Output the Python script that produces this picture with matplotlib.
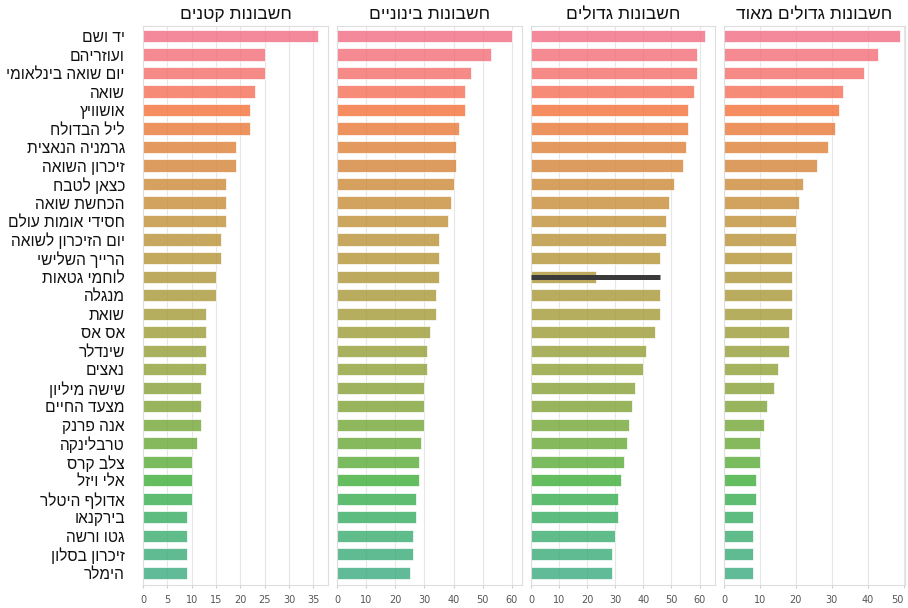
import matplotlib
matplotlib.use("Agg")
import matplotlib.pyplot as plt
import seaborn as sns

plt.rcParams['font.family'] = ['Liberation Sans', 'DejaVu Sans']

# categories (logical Hebrew order, top to bottom)
terms = [
    "יד ושם", "ועוזריהם", "יום שואה בינלאומי", "שואה", "אושוויץ", "ליל הבדולח",
    "גרמניה הנאצית", "זיכרון השואה", "כצאן לטבח", "הכחשת שואה", "חסידי אומות עולם",
    "יום הזיכרון לשואה", "הרייך השלישי", "לוחמי גטאות", "מנגלה", "שואת", "אס אס",
    "שינדלר", "נאצים", "שישה מיליון", "מצעד החיים", "אנה פרנק", "טרבלינקה",
    "צלב קרס", "אלי ויזל", "אדולף היטלר", "בירקנאו", "גטו ורשה", "זיכרון בסלון", "הימלר",
]

panel_titles = ["חשבונות קטנים", "חשבונות בינוניים", "חשבונות גדולים", "חשבונות גדולים מאוד"]

small = [36, 25, 25, 23, 22, 22, 19, 19, 17, 17, 17, 16, 16, 15, 15,
         13, 13, 13, 13, 12, 12, 12, 11, 10, 10, 10, 9, 9, 9, 9]
medium = [60, 53, 46, 44, 44, 42, 41, 41, 40, 39, 38, 35, 35, 35, 34,
          34, 32, 31, 31, 30, 30, 30, 29, 28, 28, 27, 27, 26, 26, 25]
large = [62, 59, 59, 58, 56, 56, 55, 54, 51, 49, 48, 48, 46, 46, 46,
         46, 44, 41, 40, 37, 36, 35, 34, 33, 32, 31, 31, 30, 29, 29]
very_large = [49, 43, 39, 33, 32, 31, 29, 26, 22, 21, 20, 20, 19, 19, 19,
              19, 18, 18, 15, 14, 12, 11, 10, 10, 9, 9, 8, 8, 8, 8]

# the highlighted row in the "large" panel (partly drawn bar + dark line)
highlight_row = 13
highlight_bar = 23

series = [small, medium, large, very_large]
xlims = [38, 63.5, 65.5, 50.4]
xsteps = [5, 10, 10, 10]
# axes left/right in pixels
px = [(143, 328), (337, 522), (531, 715), (724, 905)]

W, H = 908, 608
fig = plt.figure(figsize=(W / 100, H / 100), dpi=100)

colors = sns.husl_palette(70, l=0.64, s=0.85)[:len(terms)]


def heb(s):
    return s[::-1]


n = len(terms)
top_px, bot_px = 26, 585
for i, vals in enumerate(series):
    x0, x1 = px[i]
    ax = fig.add_axes([x0 / W, 1 - bot_px / H, (x1 - x0) / W, (bot_px - top_px) / H])
    widths = list(vals)
    if i == 2:
        widths[highlight_row] = highlight_bar
    ax.barh(range(n), widths, height=0.66, color=colors, alpha=0.82,
            edgecolor='white', linewidth=0.6, zorder=2)
    if i == 2:
        ax.hlines(highlight_row, 0, vals[highlight_row], color='#3a3a3a',
                  linewidth=3.6, zorder=3)
    ax.set_xlim(0, xlims[i])
    ax.set_ylim(n - 1 + 0.66, -0.54)
    ax.set_xticks(range(0, int(xlims[i]) + 1, xsteps[i]))
    ax.tick_params(axis='x', labelsize=7, colors='#555555', length=2, pad=5,
                   color='#cccccc')
    for t in ax.get_xticklabels():
        t.set_family(['Liberation Sans Narrow', 'DejaVu Sans'])
    if i == 3:
        ax.get_xticklabels()[-1].set_ha('right')
    ax.grid(axis='x', color='#e6e6e6', linewidth=0.8, zorder=0)
    ax.set_axisbelow(True)
    for sp in ax.spines.values():
        sp.set_color('#dddddd')
        sp.set_linewidth(0.8)
    if i == 0:
        ax.set_yticks(range(n))
        ax.set_yticklabels([heb(t) for t in terms], fontsize=11.2, color='#111111')
        ax.tick_params(axis='y', length=0, pad=13)
    else:
        ax.set_yticks([])
    ax.set_title(heb(panel_titles[i]), fontsize=12.5, pad=5, color='#111111')

plt.savefig("out.png", dpi=100)
